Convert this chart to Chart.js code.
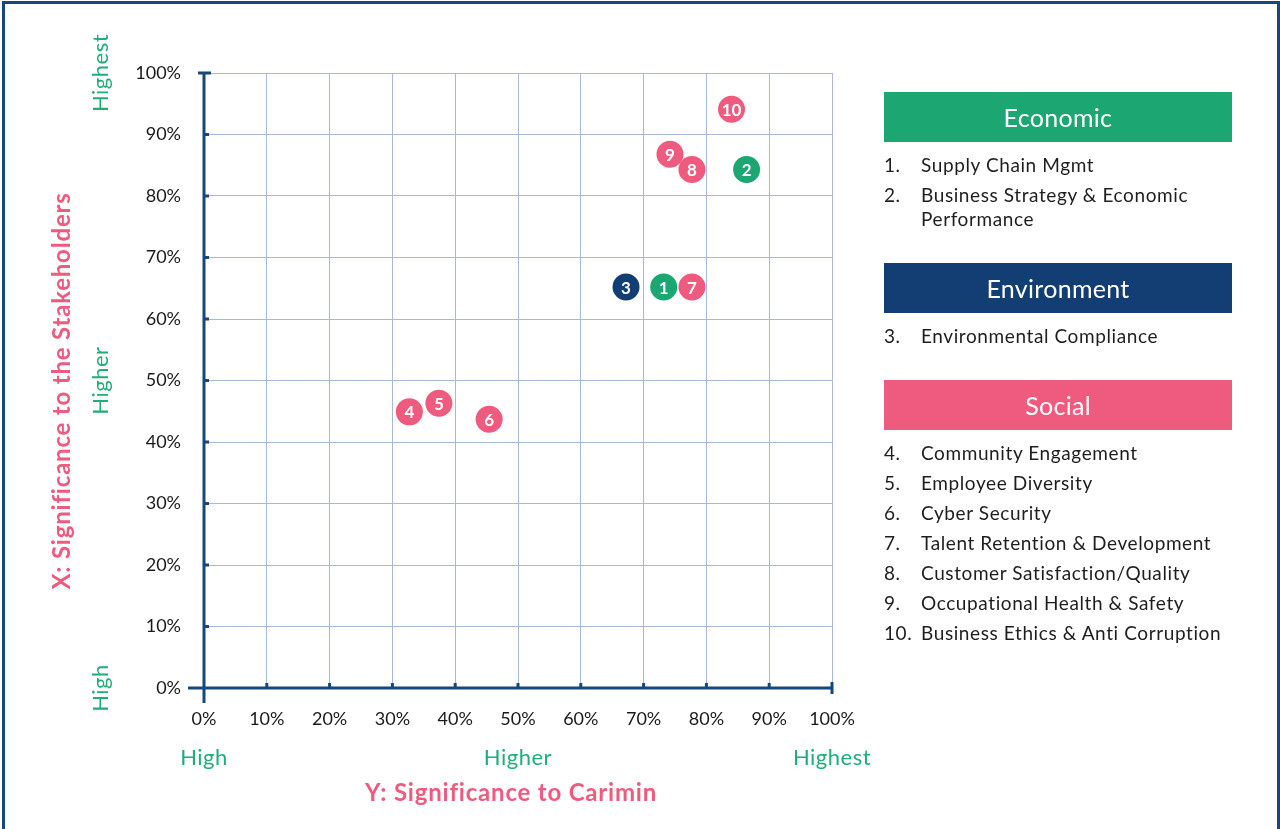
<!DOCTYPE html>
<html>
<head>
<meta charset="utf-8">
<script src="https://cdn.jsdelivr.net/npm/chart.js@4.4.1/dist/chart.umd.min.js"></script>
<style>
  html, body { margin: 0; padding: 0; background: #fff; }
  body { width: 1280px; height: 829px; position: relative; overflow: hidden; font-family: Lato, "Noto Sans", sans-serif; }
  #frame { position: absolute; left: 2px; top: 1px; width: 1272px; height: 900px; border: 3px solid #17477d; border-bottom: none; }
  #chart { position: absolute; left: 0; top: 0; }
  .group { position: absolute; left: 884px; width: 348px; }
  .head { height: 50px; line-height: 50px; text-align: center; color: #fff; font-size: 25px; letter-spacing: 0.3px; }
  .items { margin: 11px 0 0 0; padding: 0; list-style: none; color: #1e1e1e; font-size: 19px; letter-spacing: 0.6px; }
  .items li { display: flex; line-height: 24px; margin-bottom: 6px; }
  .items .n { width: 37px; flex: none; }
</style>
</head>
<body>
<div id="frame"></div>
<canvas id="chart" width="900" height="829"></canvas>
<div id="legend"></div>
<script>
// Material topics, numbered 1..10
const topicNumbers = [1, 2, 3, 4, 5, 6, 7, 8, 9, 10];
const topicNames = [
  'Supply Chain Mgmt',
  'Business Strategy & Economic Performance',
  'Environmental Compliance',
  'Community Engagement',
  'Employee Diversity',
  'Cyber Security',
  'Talent Retention & Development',
  'Customer Satisfaction/Quality',
  'Occupational Health & Safety',
  'Business Ethics & Anti Corruption'
];
const topicGroups = ['Economic', 'Economic', 'Environment', 'Social', 'Social', 'Social', 'Social', 'Social', 'Social', 'Social'];
// Significance to Carimin (horizontal, %)
const significanceCarimin = [73.2, 86.4, 67.2, 32.7, 37.4, 45.4, 77.7, 77.7, 74.2, 84.0];
// Significance to the stakeholders (vertical, %)
const significanceStakeholders = [65.2, 84.3, 65.2, 44.9, 46.3, 43.7, 65.2, 84.3, 86.8, 94.1];
// Order in which the bubbles are painted (later ones sit on top)
const paintOrder = [1, 2, 3, 4, 5, 6, 7, 9, 8, 10];

const groupNames = ['Economic', 'Environment', 'Social'];
const groupColors = ['#1ba672', '#123e73', '#ef5b7f'];

const tickValues = [0, 10, 20, 30, 40, 50, 60, 70, 80, 90, 100];
const levelLabels = ['High', 'Higher', 'Highest'];
const levelValues = [0, 50, 100];
const xTitle = 'Y: Significance to Carimin';
const yTitle = 'X: Significance to the Stakeholders';

const GREEN = '#1fae78';
const PINK = '#ef5b7f';
const NAVY = '#17477d';
const FONT = 'Lato, "Noto Sans", sans-serif';

// Legend on the right
const legendTops = [92, 263, 380];
const legend = document.getElementById('legend');
groupNames.forEach((g, gi) => {
  const box = document.createElement('div');
  box.className = 'group';
  box.style.top = legendTops[gi] + 'px';
  const head = document.createElement('div');
  head.className = 'head';
  head.style.background = groupColors[gi];
  head.textContent = g;
  box.appendChild(head);
  const ul = document.createElement('ul');
  ul.className = 'items';
  topicNumbers.forEach((n, i) => {
    if (topicGroups[i] !== g) return;
    const li = document.createElement('li');
    const num = document.createElement('span');
    num.className = 'n';
    num.textContent = n + '.';
    const txt = document.createElement('span');
    txt.textContent = topicNames[i];
    li.appendChild(num);
    li.appendChild(txt);
    ul.appendChild(li);
  });
  box.appendChild(ul);
  legend.appendChild(box);
});

// One dataset per group, points in paint order
const datasets = groupNames.map((g, gi) => {
  const pts = [];
  paintOrder.forEach(n => {
    const i = n - 1;
    if (topicGroups[i] === g) pts.push({ x: significanceCarimin[i], y: significanceStakeholders[i], n: n });
  });
  return {
    label: g,
    data: pts,
    backgroundColor: groupColors[gi],
    borderWidth: 0,
    pointRadius: 13.5,
    pointHoverRadius: 13.5
  };
});

function spaced(ctx, px) {
  if ('letterSpacing' in ctx) ctx.letterSpacing = px + 'px';
}

// Axis lines, caps, small inner ticks and the text around the plot
const axesPlugin = {
  id: 'axesPlugin',
  beforeDatasetsDraw(chart) {
    const { ctx, chartArea: a, scales: { x, y } } = chart;
    ctx.save();
    ctx.strokeStyle = NAVY;
    ctx.lineWidth = 3;
    ctx.lineCap = 'butt';
    ctx.beginPath();
    ctx.moveTo(a.left, a.top - 1.5); ctx.lineTo(a.left, a.bottom + 15);
    ctx.moveTo(a.left - 16, a.bottom); ctx.lineTo(a.right + 1.5, a.bottom);
    ctx.moveTo(a.left - 6, a.top); ctx.lineTo(a.left + 7, a.top);
    ctx.moveTo(a.right, a.bottom - 6); ctx.lineTo(a.right, a.bottom + 6);
    ctx.stroke();
    ctx.beginPath();
    tickValues.forEach(v => {
      if (v === 0 || v === 100) return;
      const px = x.getPixelForValue(v);
      ctx.moveTo(px, a.bottom); ctx.lineTo(px, a.bottom - 5);
      const py = y.getPixelForValue(v);
      ctx.moveTo(a.left, py); ctx.lineTo(a.left + 5, py);
    });
    ctx.stroke();
    ctx.restore();
  },
  afterDraw(chart) {
    const { ctx, scales: { x, y } } = chart;
    ctx.save();
    ctx.textAlign = 'center';
    ctx.textBaseline = 'middle';
    // level words
    ctx.fillStyle = GREEN;
    ctx.font = '22px ' + FONT;
    spaced(ctx, 0.5);
    levelLabels.forEach((t, i) => {
      ctx.fillText(t, x.getPixelForValue(levelValues[i]), 758);
    });
    levelLabels.forEach((t, i) => {
      ctx.save();
      ctx.translate(101, y.getPixelForValue(levelValues[i]));
      ctx.rotate(-Math.PI / 2);
      ctx.fillText(t, 0, 0);
      ctx.restore();
    });
    // axis titles
    ctx.fillStyle = PINK;
    ctx.font = 'bold 24px ' + FONT;
    spaced(ctx, 0.8);
    ctx.fillText(xTitle, 511, 793);
    ctx.save();
    ctx.translate(62, 391);
    ctx.rotate(-Math.PI / 2);
    ctx.fillText(yTitle, 0, 0);
    ctx.restore();
    // bubble numbers
    ctx.fillStyle = '#fff';
    ctx.font = 'bold 17px ' + FONT;
    spaced(ctx, 0);
    chart.data.datasets.forEach((ds, di) => {
      const meta = chart.getDatasetMeta(di);
      meta.data.forEach((el, j) => {
        ctx.fillText(String(ds.data[j].n), el.x, el.y + 1);
      });
    });
    ctx.restore();
  }
};

const gridColor = '#a9b9d1';
const tickFont = { family: FONT, size: 18 };

function noOverflow(s) {
  s.paddingLeft = 0; s.paddingRight = 0; s.paddingTop = 0; s.paddingBottom = 0;
}

new Chart(document.getElementById('chart'), {
  type: 'scatter',
  data: { datasets },
  options: {
    responsive: false,
    devicePixelRatio: 1,
    animation: false,
    layout: { padding: { left: 0, top: 73, right: 68, bottom: 0 } },
    plugins: { legend: { display: false }, tooltip: { enabled: false } },
    scales: {
      x: {
        type: 'linear', min: 0, max: 100,
        afterFit(s) { s.height = 141; noOverflow(s); },
        afterBuildTicks(s) { s.ticks = tickValues.map(v => ({ value: v })); },
        ticks: { callback: v => v + '%', font: tickFont, color: '#1a1a1a', padding: 20, maxRotation: 0 },
        grid: { color: gridColor, lineWidth: 1, drawTicks: false },
        border: { display: false }
      },
      y: {
        type: 'linear', min: 0, max: 100,
        afterFit(s) { s.width = 204; noOverflow(s); },
        afterBuildTicks(s) { s.ticks = tickValues.map(v => ({ value: v })); },
        ticks: { callback: v => v + '%', font: tickFont, color: '#1a1a1a', padding: 23 },
        grid: { color: gridColor, lineWidth: 1, drawTicks: false },
        border: { display: false }
      }
    }
  },
  plugins: [axesPlugin]
});
</script>
</body>
</html>
